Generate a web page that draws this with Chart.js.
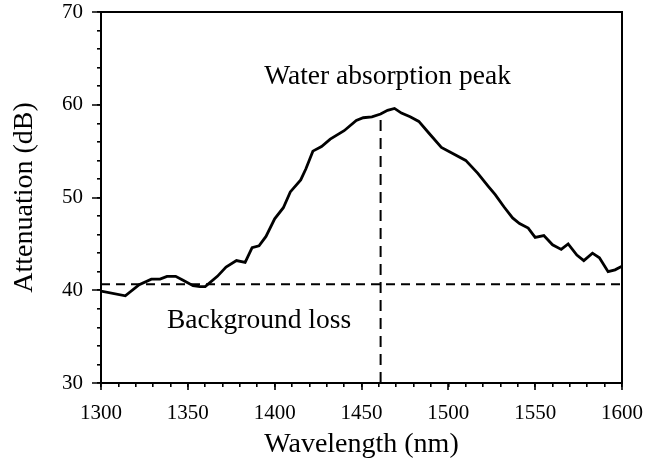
<!DOCTYPE html>
<html>
<head>
<meta charset="utf-8">
<title>Water absorption peak</title>
<script src="https://cdn.jsdelivr.net/npm/chart.js@4/dist/chart.umd.min.js"></script>
<style>
    html, body { margin: 0; padding: 0; background: #fff; }
    #wrap { width: 647px; height: 464px; }
</style>
</head>
<body>
<div id="wrap"><canvas id="chart" width="647" height="464"></canvas></div>
<script>
const wavelengths = [1300, 1314, 1322, 1329, 1334, 1338, 1343, 1347, 1353, 1357, 1360,
    1367, 1372, 1378, 1383, 1387, 1391, 1395, 1400, 1405, 1409, 1415, 1418, 1422,
    1427, 1432, 1440, 1447, 1451, 1456, 1461, 1465, 1469, 1473, 1478, 1483, 1489,
    1496, 1502, 1510, 1517, 1523, 1527, 1532, 1537, 1541, 1546, 1550, 1555, 1560,
    1565, 1569, 1574, 1578, 1583, 1587, 1592, 1596, 1600];
const attenuation = [39.9, 39.4, 40.6, 41.2, 41.2, 41.5, 41.5, 41.1, 40.5, 40.4, 40.4,
    41.5, 42.5, 43.2, 43.0, 44.6, 44.8, 45.8, 47.7, 48.9, 50.6, 51.9, 53.1, 55.0,
    55.5, 56.3, 57.2, 58.3, 58.6, 58.7, 59.0, 59.4, 59.6, 59.1, 58.7, 58.2, 56.9,
    55.4, 54.8, 54.0, 52.6, 51.2, 50.3, 49.0, 47.8, 47.2, 46.7, 45.7, 45.9, 44.9,
    44.4, 45.0, 43.8, 43.2, 44.0, 43.5, 42.0, 42.2, 42.6];

// Reference lines
const backgroundLoss = 40.65;
const peakWavelength = 1461;
const peakTop = 59.1;

// Axis ranges and ticks
const xRange = [1300, 1600];
const yRange = [30, 70];
const xMajorStep = 50, xMinorStep = 10;
const yMajorStep = 10, yMinorStep = 2;

// Text labels placed in data coordinates
const notes = [
    { text: 'Water absorption peak', x: 1465, y: 63.0 },
    { text: 'Background loss', x: 1391, y: 36.7 }
];

const serif = '"Liberation Serif", "Times New Roman", serif';

const points = wavelengths.map((w, i) => ({ x: w, y: attenuation[i] }));

// White page, frame, major ticks and text notes
const decorations = {
    id: 'decorations',
    beforeDraw(chart) {
        const ctx = chart.ctx;
        ctx.save();
        ctx.fillStyle = '#fff';
        ctx.fillRect(0, 0, chart.width, chart.height);
        ctx.restore();
    },
    afterDraw(chart) {
        const ctx = chart.ctx;
        const a = chart.chartArea;
        const xs = chart.scales.x, ys = chart.scales.y;
        ctx.save();
        ctx.strokeStyle = '#000';
        ctx.lineWidth = 2;
        ctx.strokeRect(a.left, a.top, a.right - a.left, a.bottom - a.top);

        // longer major ticks
        ctx.lineWidth = 1.6;
        ctx.beginPath();
        for (let v = xRange[0]; v <= xRange[1]; v += xMajorStep) {
            const px = Math.round(xs.getPixelForValue(v));
            ctx.moveTo(px, a.bottom);
            ctx.lineTo(px, a.bottom + 7);
        }
        for (let v = yRange[0]; v <= yRange[1]; v += yMajorStep) {
            const py = Math.round(ys.getPixelForValue(v));
            ctx.moveTo(a.left - 9, py);
            ctx.lineTo(a.left, py);
        }
        ctx.stroke();

        ctx.fillStyle = '#000';
        ctx.font = '27.5px ' + serif;
        ctx.textAlign = 'center';
        ctx.textBaseline = 'middle';
        notes.forEach(n => {
            ctx.fillText(n.text, xs.getPixelForValue(n.x), ys.getPixelForValue(n.y));
        });
        ctx.restore();
    }
};

new Chart(document.getElementById('chart'), {
    type: 'scatter',
    data: {
        datasets: [
            {
                data: points,
                showLine: true,
                borderColor: '#000',
                borderWidth: 2.8,
                pointRadius: 0,
                tension: 0
            },
            {
                data: [{ x: xRange[0], y: backgroundLoss }, { x: xRange[1], y: backgroundLoss }],
                showLine: true,
                borderColor: '#000',
                borderWidth: 2,
                borderDash: [9, 6],
                pointRadius: 0
            },
            {
                data: [{ x: peakWavelength, y: yRange[0] }, { x: peakWavelength, y: peakTop }],
                showLine: true,
                borderColor: '#000',
                borderWidth: 2,
                borderDash: [11, 7],
                pointRadius: 0
            }
        ]
    },
    options: {
        responsive: false,
        animation: false,
        layout: { padding: { top: 12, right: 25, left: 0, bottom: 0 } },
        plugins: {
            legend: { display: false },
            tooltip: { enabled: false }
        },
        scales: {
            x: {
                type: 'linear',
                min: xRange[0],
                max: xRange[1],
                afterFit: scale => {
                    scale.height = 81;
                    scale.paddingLeft = 0;
                    scale.paddingRight = 0;
                },
                border: { display: true, color: '#000', width: 2 },
                grid: { drawOnChartArea: false, drawTicks: true, tickLength: 4, color: '#000', lineWidth: 1.6 },
                ticks: {
                    stepSize: xMinorStep,
                    autoSkip: false,
                    maxRotation: 0,
                    padding: 14,
                    color: '#000',
                    font: { family: serif, size: 21 },
                    callback: v => (v % xMajorStep === 0 ? String(v) : '')
                },
                title: {
                    display: true,
                    text: 'Wavelength (nm)',
                    color: '#000',
                    font: { family: serif, size: 28 },
                    padding: { top: 0, bottom: 3 }
                }
            },
            y: {
                type: 'linear',
                min: yRange[0],
                max: yRange[1],
                afterFit: scale => {
                    scale.width = 101;
                    scale.paddingTop = 0;
                    scale.paddingBottom = 0;
                },
                border: { display: true, color: '#000', width: 2 },
                grid: { drawOnChartArea: false, drawTicks: true, tickLength: 4, color: '#000', lineWidth: 1.6 },
                ticks: {
                    stepSize: yMinorStep,
                    autoSkip: false,
                    padding: 14,
                    color: '#000',
                    font: { family: serif, size: 21 },
                    callback: v => (v % yMajorStep === 0 ? String(v) : '')
                },
                title: {
                    display: true,
                    text: 'Attenuation (dB)',
                    color: '#000',
                    font: { family: serif, size: 28 },
                    padding: { top: 8, bottom: 0 }
                }
            }
        }
    },
    plugins: [decorations]
});
</script>
</body>
</html>
